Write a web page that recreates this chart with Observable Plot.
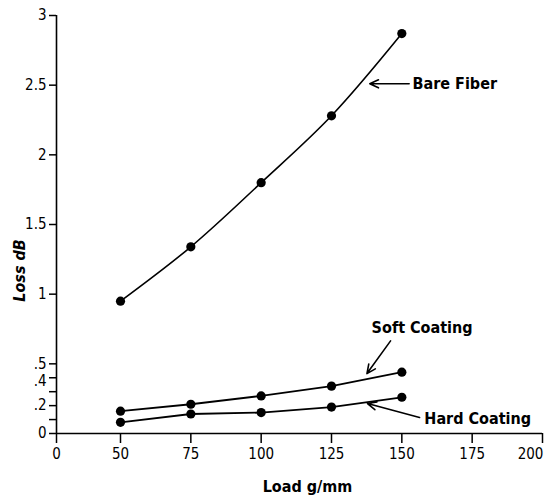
<!DOCTYPE html>
<html>
<head>
<meta charset="utf-8">
<script src="https://cdn.jsdelivr.net/npm/d3@7"></script>
<script src="https://cdn.jsdelivr.net/npm/@observablehq/plot@0.6"></script>
<style>
  html, body { margin: 0; padding: 0; background: #fff; }
  #chart svg { font-family: "DejaVu Sans Condensed", "DejaVu Sans", sans-serif; font-stretch: condensed; }
</style>
</head>
<body>
<div id="chart"></div>
<script>
// ---- data ----
const loads = [50, 75, 100, 125, 150];
const bareFiber = [0.95, 1.34, 1.80, 2.28, 2.87];
const softCoating = [0.16, 0.21, 0.27, 0.34, 0.44];
const hardCoating = [0.08, 0.14, 0.15, 0.19, 0.26];
const seriesNames = ["Bare Fiber", "Soft Coating", "Hard Coating"];

const xTicks = [0, 50, 75, 100, 125, 150, 175, 200];
const yTicks = [0, 0.1, 0.2, 0.3, 0.4, 0.5, 1, 1.5, 2, 2.5, 3];
const yTickLabels = ["0", "", ".2", "", ".4", ".5", "1", "1.5", "2", "2.5", "3"];
const xTitle = "Load g/mm";
const yTitle = "Loss dB";

// annotation positions (data units: g/mm, dB)
const labelLoad = [153.8, 157.2, 158.0];
const labelLoss = [2.51, 0.755, 0.108];
const arrowFromLoad = [152.6, 146.0, 156.3];
const arrowFromLoss = [2.51, 0.665, 0.115];
const arrowToLoad = [138.6, 137.6, 137.8];
const arrowToLoss = [2.51, 0.43, 0.215];

// ---- build tables ----
const rows = [];
[bareFiber, softCoating, hardCoating].forEach((vals, s) => {
  loads.forEach((l, i) => rows.push({series: seriesNames[s], load: l, loss: vals[i]}));
});
const labels = seriesNames.map((n, i) => ({name: n, x: labelLoad[i], y: labelLoss[i]}));
const arrows = seriesNames.map((n, i) => ({x1: arrowFromLoad[i], y1: arrowFromLoss[i], x2: arrowToLoad[i], y2: arrowToLoss[i]}));
const tickLabelMap = new Map(yTicks.map((t, i) => [t, yTickLabels[i]]));
const lastX = xTicks[xTicks.length - 1];
const blank = () => "";

const chart = Plot.plot({
  width: 548,
  height: 500,
  marginLeft: 56,
  marginRight: 6,
  marginTop: 15,
  marginBottom: 67,
  style: {fontSize: "15px", color: "#000", background: "#fff"},
  x: {type: "linear", domain: [0, 50, 200], range: [56, 120, 542]},
  y: {type: "linear", domain: [0, 3], range: [433, 15]},
  marks: [
    // x ticks (marks) and labels (the last label nudged left as in the original)
    Plot.axisX({ticks: xTicks, tickFormat: d => (d === lastX ? "" : String(d)), tickSize: 10, tickPadding: 5, label: null, stroke: "#000", strokeWidth: 1.5}),
    Plot.axisX({ticks: [lastX], tickFormat: d => String(d), tickSize: 0, tickPadding: 15, dx: -12, label: null}),
    // y ticks and labels (".4" nudged down as in the original)
    Plot.axisY({ticks: yTicks, tickFormat: d => (d === 0.4 ? "" : tickLabelMap.get(d) ?? ""), tickSize: 7, tickPadding: 3, label: null, stroke: "#000", strokeWidth: 1.5}),
    Plot.axisY({ticks: [0.4], tickFormat: d => tickLabelMap.get(d), tickSize: 0, tickPadding: 10, dy: 3, label: null}),
    Plot.ruleY([0], {x1: 0, x2: 200, stroke: "#000", strokeWidth: 1.6}),
    Plot.ruleX([0], {y1: 0, y2: 3, stroke: "#000", strokeWidth: 1.6}),
    Plot.line(rows.filter(d => d.series === seriesNames[0]), {x: "load", y: "loss", curve: "catmull-rom", stroke: "#000", strokeWidth: 1.6}),
    Plot.line(rows.filter(d => d.series !== seriesNames[0]), {x: "load", y: "loss", z: "series", stroke: "#000", strokeWidth: 1.8}),
    Plot.dot(rows, {x: "load", y: "loss", r: 4.6, fill: "#000", stroke: "none"}),
    Plot.arrow(arrows, {x1: "x1", y1: "y1", x2: "x2", y2: "y2", stroke: "#000", strokeWidth: 1.6, headLength: 9, headAngle: 50}),
    Plot.text([labels[0], labels[2]], {x: "x", y: "y", text: "name", textAnchor: "start", fontWeight: "bold", fontSize: 16, fill: "#000"}),
    Plot.text([labels[1]], {x: "x", y: "y", text: "name", textAnchor: "middle", fontWeight: "bold", fontSize: 16, fill: "#000"}),
    Plot.text([xTitle], {frameAnchor: "bottom", dx: 8, dy: 58, text: d => d, fontWeight: "bold", fontSize: 16, fill: "#000"}),
    Plot.text([yTitle], {frameAnchor: "left", textAnchor: "middle", dx: -37, dy: 46, rotate: -90, text: d => d, fontWeight: "bold", fontStyle: "italic", fontSize: 16, fill: "#000"})
  ]
});
document.getElementById("chart").appendChild(chart);
</script>
</body>
</html>
